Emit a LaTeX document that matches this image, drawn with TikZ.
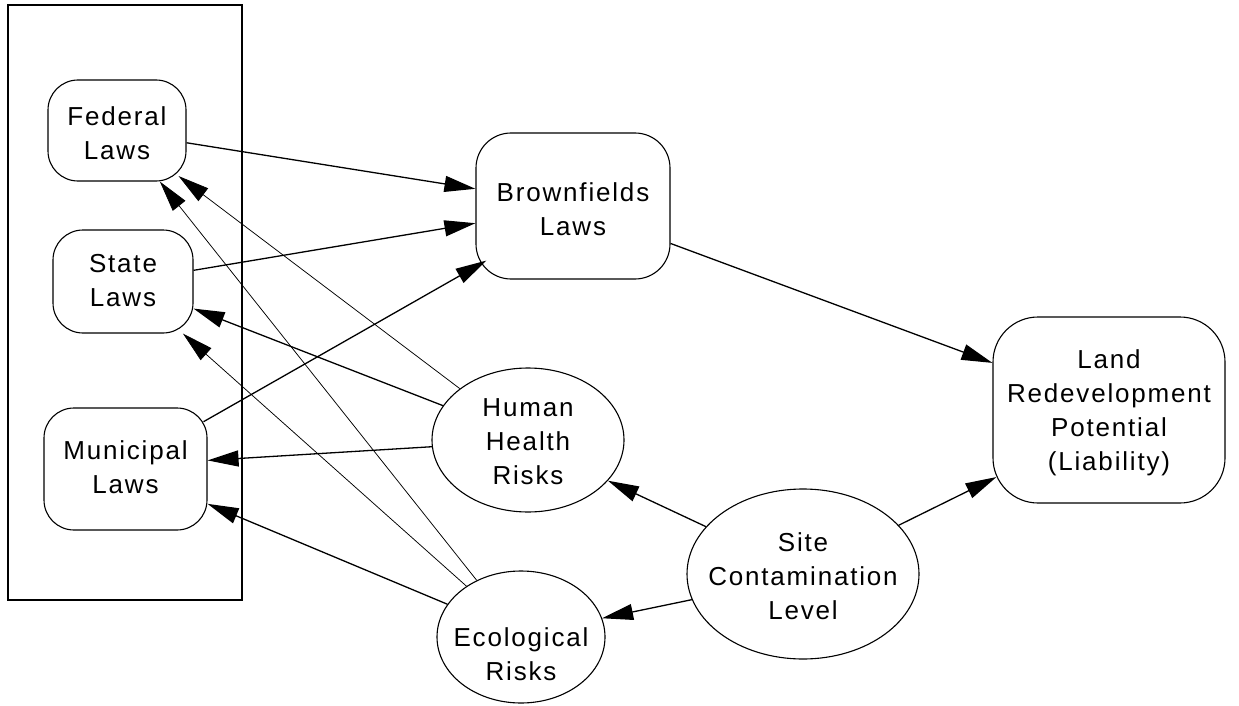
\documentclass[tikz,border=0pt]{standalone}
\usepackage{fontspec}
\setmainfont{Liberation Sans}[LetterSpace=7]
\usetikzlibrary{arrows.meta,shapes.geometric}

\tikzset{
  lbl/.style={font=\fontsize{26}{34}\selectfont, align=center, inner sep=0},
  rbox/.style={draw, line width=1.1, fill=white, inner sep=0, rounded corners=#1},
  risk/.style={draw, ellipse, line width=1.1, fill=white, inner sep=0},
  link/.style={line width=1.3, -{Triangle[length=31pt,width=16pt]}},
  faint/.style={line width=0.75, -{Triangle[length=31pt,width=16pt]}},
}

\begin{document}
\begin{tikzpicture}[x=1pt, y=-1pt]
  \useasboundingbox (0,0) rectangle (1239,706);

  % frame around the three levels of law
  \node[draw, line width=1.7, minimum width=234, minimum height=595, inner sep=0] (group) at (125,302.5) {};

  % law boxes
  \node[rbox=30, minimum width=138, minimum height=101] (fed) at (117,130.5) {};
  \node[lbl] (fed-t) at (117,133) {Federal\\Laws};
  \node[rbox=30, minimum width=140, minimum height=103] (st) at (123,281.5) {};
  \node[lbl] (st-t) at (123,281) {State\\Laws};
  \node[rbox=30, minimum width=163, minimum height=122] (mun) at (125.5,469) {};
  \node[lbl] (mun-t) at (125.5,467) {Municipal\\Laws};
  \node[rbox=35, minimum width=194, minimum height=146] (br) at (573,206) {};
  \node[lbl] (br-t) at (573,209) {Brownfields\\Laws};
  \node[rbox=45, minimum width=232, minimum height=186] (land) at (1109,410) {};
  \node[lbl] (land-t) at (1109,413) {Land\\Redevelopment\\Potential\\(Liability)};

  % risk ellipses
  \node[risk, minimum width=192, minimum height=144] (hum) at (528,440) {};
  \node[lbl] (hum-t) at (528,442) {Human\\Health\\Risks};
  \node[risk, minimum width=232, minimum height=170] (site) at (803,574) {};
  \node[lbl] (site-t) at (803,576) {Site\\Contamination\\Level};
  \node[risk, minimum width=168, minimum height=132] (eco) at (521,637) {};
  \node[lbl] (eco-t) at (521,654) {Ecological\\Risks};

  % laws feeding brownfields legislation
  \draw[link] (fed.-10) -- (br.170);
  \draw[link] (st.9) -- (br.190);
  \draw[link] ([shift={(-4,2)}]mun.31) -- ([shift={(11,-19)}]br.south west);
  \draw[link] (br.-21) -- (land.158);

  % contamination drives risks and potential
  \draw[link] (site.27) -- ([shift={(4,-3)}]land.211);
  \draw[link] (site.154) -- (hum.-27);
  \draw[link] (site.193) -- (eco.13);

  % risks drive the laws
  \draw[faint] (hum.143) -- ([shift={(-8,-5.5)}]fed.south east);
  \draw[link] (hum.158) -- (st.-21);
  \draw[link] (hum.184) -- (mun.6);
  \draw[faint] (eco.128) -- (fed.-50);
  \draw[faint] (eco.137) -- (st.-41);
  \draw[link] (eco.156) -- (mun.-23);
\end{tikzpicture}
\end{document}
